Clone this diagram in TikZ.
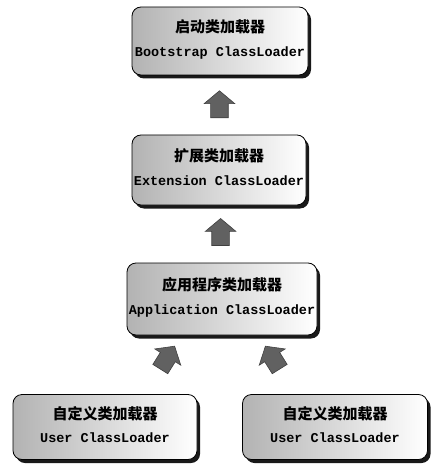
\documentclass[tikz,border=0pt]{standalone}
\usepackage{fontspec}
\newfontfamily\cjk{Noto Sans CJK SC}
\newfontfamily\mono{Liberation Mono}
\usetikzlibrary{shapes.arrows,shadows,calc}
\tikzset{
  loader/.style={draw=black, line width=0.8pt, rounded corners=9pt,
    left color=black!30, right color=white, align=center, inner sep=0pt,
    drop shadow={shadow xshift=3pt, shadow yshift=-3.5pt, fill=black, opacity=0.9}},
  uparrow/.style={single arrow, fill=black!62, draw=black!75, line width=0.6pt,
    minimum height=27pt, single arrow head extend=6.5pt,
    single arrow tip angle=100, inner sep=8.5pt,
    shape border rotate=90}
}
\newcommand{\zh}[1]{{\cjk\bfseries\fontsize{15}{18}\selectfont #1}}
\newcommand{\en}[1]{{\mono\bfseries\fontsize{13.5}{16}\selectfont #1}\rule[-6pt]{0pt}{6pt}}
\begin{document}
\begin{tikzpicture}[x=1pt,y=-1pt]
\useasboundingbox (0,0) rectangle (437,473);
\node[loader, minimum width=176pt, minimum height=68pt] (boot) at (220,41)
  {\zh{启动类加载器}\\[12pt]\en{Bootstrap ClassLoader}};
\node[loader, minimum width=174pt, minimum height=70pt] (ext) at (219,170)
  {\zh{扩展类加载器}\\[12pt]\en{Extension ClassLoader}};
\node[loader, minimum width=190pt, minimum height=72pt] (app) at (222,299)
  {\zh{应用程序类加载器}\\[12pt]\en{Application ClassLoader}};
\node[loader, minimum width=184pt, minimum height=65pt] (user1) at (105,427)
  {\zh{自定义类加载器}\\[11pt]\en{User ClassLoader}};
\node[loader, minimum width=185pt, minimum height=65pt] (user2) at (335,427)
  {\zh{自定义类加载器}\\[11pt]\en{User ClassLoader}};
\node[uparrow] (up1) at ($(boot.south)!0.55!(ext.north)$) {};
\node[uparrow] (up2) at ($(ext.south)!0.53!(app.north)$) {};
\node[uparrow, rotate=-32] (up3) at ($(user1.north)!0.5!(app.south)+(2,-4)$) {};
\node[uparrow, rotate=32] (up4) at ($(user2.north)!0.5!(app.south)+(-4,-4)$) {};
\end{tikzpicture}
\end{document}
